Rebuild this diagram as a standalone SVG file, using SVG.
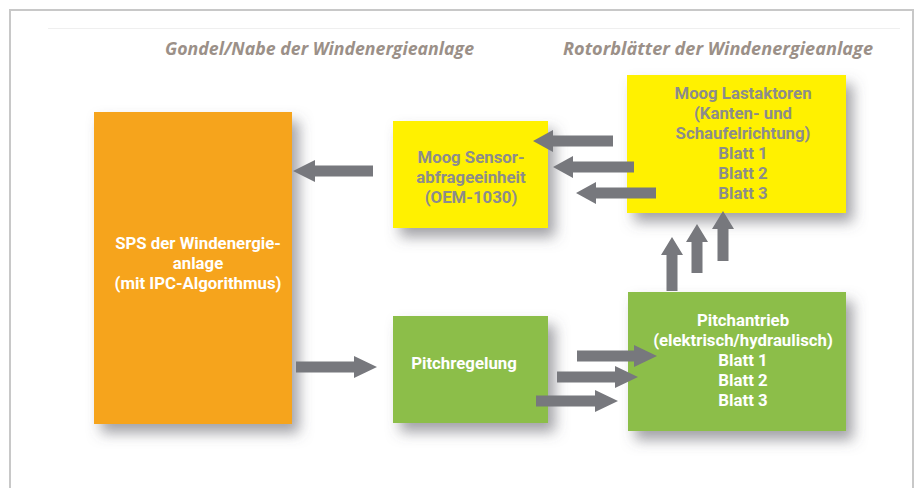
<svg xmlns="http://www.w3.org/2000/svg" width="920" height="488" viewBox="0 0 920 488">
<style>
.head{font-family:"Open Sans","Liberation Sans",sans-serif;font-weight:bold;font-style:italic;font-size:17px;fill:#9b9088}
.t{font-family:Roboto,"Liberation Sans",sans-serif;font-weight:bold;font-size:16.8px;text-anchor:middle}
.w{fill:#ffffff}
.g{fill:#8c8c8c}
.arr{fill:#77787d}
</style>
<defs>
<filter id="sh" x="-20%" y="-20%" width="150%" height="150%">
<feDropShadow dx="7" dy="9" stdDeviation="7" flood-color="#555560" flood-opacity="0.55"/>
</filter>
</defs>
<rect x="0" y="0" width="920" height="488" fill="#ffffff"/>
<rect x="10" y="10" width="903" height="490" fill="none" stroke="#c8c8c8" stroke-width="2"/>
<line x1="48" y1="28.5" x2="900" y2="28.5" stroke="#efefef" stroke-width="1"/>
<text class="head" x="165" y="55" textLength="309" lengthAdjust="spacingAndGlyphs">Gondel/Nabe der Windenergieanlage</text>
<text class="head" x="563" y="55" textLength="310" lengthAdjust="spacingAndGlyphs">Rotorblätter der Windenergieanlage</text>

<g id="sps">
<rect x="94" y="112" width="198" height="312" fill="#f6a41d" filter="url(#sh)"/>
<text class="t w" x="198" y="249">SPS der Windenergie-</text>
<text class="t w" x="198" y="269">anlage</text>
<text class="t w" x="198" y="289">(mit IPC-Algorithmus)</text>
</g>
<g id="sensor">
<rect x="393" y="121" width="155" height="107" fill="#fff100" filter="url(#sh)"/>
<text class="t g" x="471" y="163">Moog Sensor-</text>
<text class="t g" x="471" y="183">abfrageeinheit</text>
<text class="t g" x="471" y="203">(OEM-1030)</text>
</g>
<g id="lastaktoren">
<rect x="627" y="75" width="219" height="138" fill="#fff100" filter="url(#sh)"/>
<text class="t g" x="743" y="99">Moog Lastaktoren</text>
<text class="t g" x="743" y="119">(Kanten- und</text>
<text class="t g" x="743" y="139">Schaufelrichtung)</text>
<text class="t g" x="743" y="159">Blatt 1</text>
<text class="t g" x="743" y="179">Blatt 2</text>
<text class="t g" x="743" y="199">Blatt 3</text>
</g>
<g id="pitchregelung">
<rect x="393" y="316" width="155" height="107" fill="#8cbe4a" filter="url(#sh)"/>
<text class="t w" x="464" y="369">Pitchregelung</text>
</g>
<g id="pitchantrieb">
<rect x="628" y="292" width="218" height="139" fill="#8cbe4a" filter="url(#sh)"/>
<text class="t w" x="743" y="326">Pitchantrieb</text>
<text class="t w" x="743" y="346">(elektrisch/hydraulisch)</text>
<text class="t w" x="743" y="366">Blatt 1</text>
<text class="t w" x="743" y="386">Blatt 2</text>
<text class="t w" x="743" y="406">Blatt 3</text>
</g>

<g id="connectors" class="arr">
<!-- Lastaktoren -> Sensor (left) -->
<polygon points="613,135.5 553,135.5 553,130 533,141 553,152 553,146.5 613,146.5"/>
<polygon points="634,161.5 573,161.5 573,156 553,167 573,178 573,172.5 634,172.5"/>
<polygon points="656,187.5 596,187.5 596,182 576,193 596,204 596,198.5 656,198.5"/>
<!-- Sensor -> SPS (left) -->
<polygon points="373,165.5 315,165.5 315,160 293,171 315,182 315,176.5 373,176.5"/>
<!-- SPS -> Pitchregelung (right) -->
<polygon points="296,361.5 354,361.5 354,356 377,367 354,378 354,372.5 296,372.5"/>
<!-- Pitchregelung -> Pitchantrieb (right) -->
<polygon points="577,350.5 634,350.5 634,345 657,356 634,367 634,361.5 577,361.5"/>
<polygon points="557,371.5 615,371.5 615,366 638,377 615,388 615,382.5 557,382.5"/>
<polygon points="536,395.5 595,395.5 595,390 618,401 595,412 595,406.5 536,406.5"/>
<!-- Pitchantrieb -> Lastaktoren (up) -->
<polygon points="666.5,291 666.5,255 661,255 672,237 683,255 677.5,255 677.5,291"/>
<polygon points="691.5,273 691.5,242 686,242 697,224 708,242 702.5,242 702.5,273"/>
<polygon points="717.5,261 717.5,229 712,229 723,211 734,229 728.5,229 728.5,261"/>
</g>
</svg>
